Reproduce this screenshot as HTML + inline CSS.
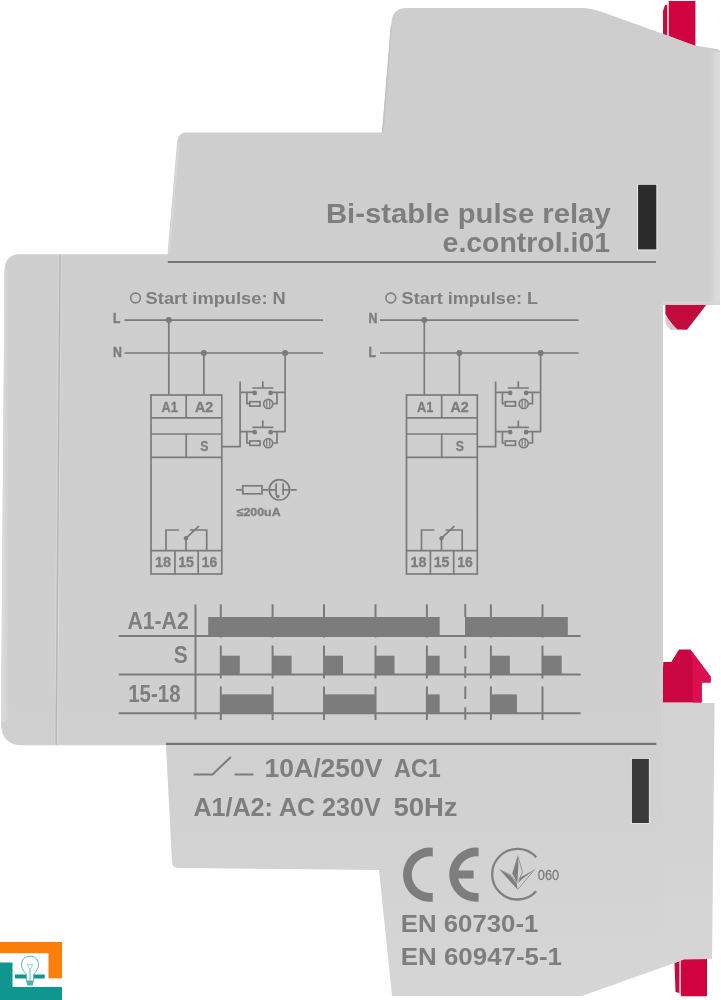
<!DOCTYPE html>
<html><head><meta charset="utf-8">
<style>
html,body{margin:0;padding:0;background:#fff;}
body{width:721px;height:1000px;overflow:hidden;position:relative;}
svg{position:absolute;left:0;top:0;display:block;filter:blur(0.4px);}
text{font-family:"Liberation Sans",sans-serif;font-weight:bold;fill:#7e7e7e;}
</style></head><body>
<svg width="721" height="1000" viewBox="0 0 721 1000">
<!-- red clips (behind housing) -->
<g fill="#cf0a45">
  <path d="M668.7 1 L695.4 1 L695.4 47 L668.7 36 Z" fill="#d0033f"/>
  <path d="M667 4 L668.8 4 L668.8 37 L667 37 Z" fill="#f2b7c6"/>
  <path d="M663 11 L665 5 L667 5 L667 37 L663 35 Z" fill="#c50d3e"/>
  <path d="M665.4 305 L706.2 305 L687 329.8 L677 329.6 Q668 320 665.4 314 Z" fill="#c20b3c"/>
  <path d="M665.4 314 Q668 320 677 329.6 L670.5 330 L665.6 323.5 Z" fill="#d9c9cd"/>
  <path d="M663.3 662 L671.2 662 L679 649.4 L690.4 649.4 L710.6 676.5 L710.6 682.4 L701.7 682.4 L701.7 702.5 L661.5 702.5 Z" fill="#c90642"/>
  <path d="M690.4 649.4 L710.6 676.5 L710.6 682.4 L701.7 682.4 L701.7 702.5 L692.6 702.5 L692.6 663 Z" fill="#db0f4f"/>
  <path d="M680.5 958 L707 958 L707 996.3 L681 996.3 Z" fill="#d0033f"/>
  <path d="M679.3 960 L681 960 L681 995 L679.3 994 Z" fill="#f0b2c2"/>
  <path d="M674.5 963 L679.3 961 L679.3 993 L675.5 992 Z" fill="#c20b3e"/>
</g>
<!-- housing silhouette -->
<defs>
<linearGradient id="lg" x1="0" y1="0" x2="0" y2="1">
  <stop offset="0" stop-color="#cecece"/>
  <stop offset="0.7" stop-color="#cfcfcf"/>
  <stop offset="0.8" stop-color="#d1d1d1"/>
  <stop offset="1" stop-color="#d6d6d6"/>
</linearGradient>
</defs>
<path fill="url(#lg)" d="
 M406 8 L584 8 Q592 8.5 602 12 L662 33.5 L695 45.5 L718 49.2 L720 51 L720 305 L663 305 L663 703 L714.5 703 L712 959
 L684 959.5 L676 962.5 L582 996 L392 996 L379 870 L178 868 Q172.5 868 172 862 L166 746 L166 745.3 L23 745.3 Q1 745.3 1 723
 L4.6 270 Q5 254.2 20 254.2 L167.5 254.2 L177.2 141 Q178.2 132.5 187 132.5 L381.8 132.5 L391.5 22 Q393 8 406 8 Z"/>
<!-- edge highlights -->
<defs><linearGradient id="lh" gradientUnits="userSpaceOnUse" x1="1" y1="0" x2="9" y2="0">
<stop offset="0" stop-color="#dedede"/><stop offset="0.4" stop-color="#d8d8d8"/><stop offset="1" stop-color="#d8d8d8" stop-opacity="0"/></linearGradient></defs>
<path d="M4.6 270 L12.6 270 L9 722 L1 722 Z" fill="url(#lh)"/>
<path d="M661.5 305 V703" stroke="#d2d2d2" stroke-width="2"/>
<defs><linearGradient id="rh" gradientUnits="userSpaceOnUse" x1="710" y1="0" x2="720" y2="0">
<stop offset="0" stop-color="#d6d6d6" stop-opacity="0"/><stop offset="0.5" stop-color="#d8d8d8"/><stop offset="1" stop-color="#dcdcdc"/></linearGradient></defs>
<path d="M710 52 L720 52 L720 305 L710 305 Z" fill="url(#rh)"/>
<path d="M663 302.5 H720" stroke="#d6d6d6" stroke-width="2"/>
<path d="M663 703 L714.5 703 L712 959 L663 959 Z" fill="#d6d6d6" opacity="0.35"/>
<path d="M391.3 26 L383 131" stroke="#c2c2c2" stroke-width="1.4"/>
<path d="M178.8 142 L169.2 254" stroke="#d6d6d6" stroke-width="2"/>
<!-- inner lines -->
<path d="M58.8 255 L54.8 745" stroke="#d6d6d6" stroke-width="1.2"/>
<path d="M61.4 255 L57.4 745" stroke="#d8d8d8" stroke-width="1.2"/>
<path d="M60.1 255 L56.1 745" stroke="#b6b6b6" stroke-width="1.4"/>
<line x1="167.8" y1="262" x2="656" y2="262" stroke="#747474" stroke-width="2.2"/>
<line x1="166" y1="743.8" x2="656.3" y2="743.8" stroke="#747474" stroke-width="2.2"/>
<!-- slots -->
<rect x="637" y="184" width="20.5" height="66.5" fill="#e6e6e6"/>
<rect x="638.1" y="184.8" width="18.2" height="64.6" fill="#2b2b2b"/>
<rect x="631" y="758" width="19" height="66" fill="#e4e4e4"/>
<rect x="631.9" y="758.9" width="17" height="64.1" fill="#3a3a3a"/>

<!-- Title -->
<text x="325.9" y="222.7" font-size="27.2" textLength="284.8" lengthAdjust="spacingAndGlyphs">Bi-stable pulse relay</text>
<text x="442.6" y="251.6" font-size="27.2" textLength="167.4" lengthAdjust="spacingAndGlyphs">e.control.i01</text>

<defs>
<g id="sw">
  <path d="M240.1 392.3 H253 M272.3 392.3 H285.1 M246.9 392.3 V403.7 H249.1 M273.4 403.7 H277 V392.3"/>
  <path d="M252.3 388 H273.3 M262.8 381.2 V388"/>
  <circle cx="254.7" cy="392.9" r="1.5" fill="#7b7b7b"/>
  <circle cx="270.6" cy="392.9" r="1.5" fill="#7b7b7b"/>
  <rect x="249.8" y="401.7" width="10.2" height="4.4"/>
  <circle cx="268.2" cy="403.9" r="4.5"/>
  <path d="M266.7 400.2 V407 M269.7 400.2 V407" stroke-width="1.2"/>
</g>
<g id="dg">
  <g stroke="#7b7b7b" stroke-width="1.7" fill="none">
    <path d="M124.5 320.1 H323 M124.5 353 H323"/>
    <path d="M168.8 320.1 V395 M203.9 353 V395 M285.1 353 V432.3"/>
    <rect x="151" y="395" width="70.8" height="179"/>
    <path d="M151 417.8 H221.8 M151 434 H221.8 M151 457.3 H221.8 M151 550.7 H221.8"/>
    <path d="M186.2 395 V417.8 M186.2 434 V457.3 M174.9 550.7 V574 M198.2 550.7 V574"/>
    <path d="M166 550.7 V530 H178.9 M186 550.7 V538.2 L198.9 526.2 M206.7 550.7 V530 H190"/>
    <path d="M221.8 446.7 H240.1 V381.6"/>
    <use href="#sw"/>
    <use href="#sw" y="39.3"/>
  </g>
  <g fill="#7b7b7b">
    <circle cx="168.8" cy="320.1" r="3"/>
    <circle cx="203.9" cy="353" r="3"/>
    <circle cx="285.1" cy="353" r="3"/>
    <circle cx="186" cy="538.2" r="2.2"/>
  </g>
  <g font-size="14.5" stroke="#7e7e7e" stroke-width="0.35">
    <text x="161.6" y="411.8" textLength="16.2" lengthAdjust="spacingAndGlyphs">A1</text>
    <text x="195.1" y="411.8" textLength="18.2" lengthAdjust="spacingAndGlyphs">A2</text>
    <text x="200.2" y="450.7" textLength="8.2" lengthAdjust="spacingAndGlyphs">S</text>
    <text x="155.1" y="567.3" textLength="16" lengthAdjust="spacingAndGlyphs">18</text>
    <text x="178.2" y="567.3" textLength="15.8" lengthAdjust="spacingAndGlyphs">15</text>
    <text x="201.8" y="567.3" textLength="15.5" lengthAdjust="spacingAndGlyphs">16</text>
  </g>
</g>
</defs>
<use href="#dg"/>
<use href="#dg" x="255.5"/>
<g font-size="14.5" stroke="#7e7e7e" stroke-width="0.5">
  <text x="112.9" y="323.4" textLength="7.4" lengthAdjust="spacingAndGlyphs">L</text>
  <text x="112.9" y="356.5" textLength="8.9" lengthAdjust="spacingAndGlyphs">N</text>
  <text x="368.4" y="323.4" textLength="8.9" lengthAdjust="spacingAndGlyphs">N</text>
  <text x="368.4" y="356.5" textLength="7.4" lengthAdjust="spacingAndGlyphs">L</text>
</g>
<g font-size="16.7">
  <text x="145.6" y="303.8" textLength="140.2" lengthAdjust="spacingAndGlyphs">Start impulse: N</text>
  <text x="401.6" y="303.8" textLength="136.4" lengthAdjust="spacingAndGlyphs">Start impulse: L</text>
</g>
<g stroke="#7e7e7e" stroke-width="1.6" fill="none">
  <circle cx="135.5" cy="298" r="4.9"/>
  <circle cx="390.8" cy="298" r="4.9"/>
</g>
<!-- lamp symbol -->
<g stroke="#7b7b7b" stroke-width="1.7" fill="none">
  <path d="M236.1 489.8 H242 M262.8 489.8 H268.3 M290.5 489.8 H296.7"/>
  <rect x="242.8" y="485.8" width="19.2" height="8"/>
  <circle cx="279.4" cy="489.8" r="10.2"/>
  <path d="M276.1 483.3 V495.5 M283.1 483.3 V495 M269.2 489.8 H276.1 M283.1 489.8 H289.6"/>
</g>
<circle cx="277.8" cy="496.5" r="1.8" fill="#7b7b7b"/>
<text x="236.7" y="515.6" font-size="11.8" stroke="#7e7e7e" stroke-width="0.35" textLength="43.9" lengthAdjust="spacingAndGlyphs">≤200uA</text>

<!-- timing chart -->
<g stroke="#7b7b7b" stroke-width="2" fill="none">
  <path d="M118.7 636.1 H580.6 M118.7 674.6 H580.6 M118.7 713.3 H580.6"/>
  <path d="M195.5 604.5 V719.5"/>
  <path d="M220.8 604.3 V637.5 M272.6 604.3 V637.5 M324 604.3 V637.5 M375.5 604.3 V637.5 M426.9 604.3 V637.5 M490.9 604.3 V637.5 M542.5 604.3 V637.5"/>
  <path d="M220.8 645.5 V678.5 M272.6 645.5 V678.5 M324 645.5 V678.5 M375.5 645.5 V678.5 M426.9 645.5 V678.5 M490.9 645.5 V678.5 M542.5 645.5 V678.5"/>
  <path d="M220.8 686.4 V720 M272.6 686.4 V720 M324 686.4 V720 M375.5 686.4 V720 M426.9 686.4 V720 M490.9 686.4 V720 M542.5 686.4 V720"/>
  <path d="M465.3 604 V617 M465.3 645.6 V658.6 M465.3 666.4 V678.1 M465.3 686.6 V698.9 M465.3 707.3 V719.7"/>
</g>
<g fill="#7c7c7c">
  <rect x="208.2" y="617" width="231.5" height="19"/>
  <rect x="465" y="617" width="102.8" height="19"/>
  <rect x="220.8" y="655.7" width="19" height="19"/>
  <rect x="272.6" y="655.7" width="19" height="19"/>
  <rect x="324" y="655.7" width="19" height="19"/>
  <rect x="375.5" y="655.7" width="19" height="19"/>
  <rect x="426.9" y="655.7" width="12.8" height="19"/>
  <rect x="490.9" y="655.7" width="19" height="19"/>
  <rect x="542.5" y="655.7" width="19.2" height="19"/>
  <rect x="220.8" y="694.4" width="51.8" height="19"/>
  <rect x="324" y="694.4" width="51.5" height="19"/>
  <rect x="426.9" y="694.4" width="12.8" height="19"/>
  <rect x="490.9" y="694.4" width="26" height="19"/>
</g>
<g font-size="23">
  <text x="127.4" y="628.6" textLength="61.3" lengthAdjust="spacingAndGlyphs">A1-A2</text>
  <text x="173.8" y="663.4" textLength="14" lengthAdjust="spacingAndGlyphs">S</text>
  <text x="128.2" y="702.1" textLength="52.4" lengthAdjust="spacingAndGlyphs">15-18</text>
</g>

<!-- ratings -->
<path d="M193.7 774.5 H212.5 L230.8 757 M234.7 774.5 H253.3" stroke="#7b7b7b" stroke-width="2" fill="none"/>
<g font-size="26.4">
  <text x="264.6" y="777" textLength="117.7" lengthAdjust="spacingAndGlyphs">10A/250V</text>
  <text x="394" y="777" textLength="46.8" lengthAdjust="spacingAndGlyphs">AC1</text>
  <text x="193.4" y="815.5" textLength="187.3" lengthAdjust="spacingAndGlyphs">A1/A2: AC 230V</text>
  <text x="393.4" y="815.5" textLength="64.2" lengthAdjust="spacingAndGlyphs">50Hz</text>
</g>

<!-- CE -->
<g fill="#7d7d7d">
  <path d="M432.75 847.73 A27.1 27.1 0 1 0 432.75 901.67 L432.75 892.86 A18.35 18.35 0 1 1 432.75 856.54 Z"/>
  <path d="M478.6 847.7 A27.1 27.1 0 1 0 478.6 901.7 L478.6 892.9 A18.35 18.35 0 1 1 478.6 856.5 Z"/>
  <rect x="457" y="870.5" width="16.6" height="8"/>
</g>
<!-- UA mark -->
<path d="M536.2 857.2 A25.3 25.3 0 1 0 536.2 891.2" stroke="#808080" stroke-width="2.3" fill="none"/>
<g fill="#7e7e7e">
  <path d="M517.7 855.7 L512.3 873.4 L517.3 883 L518.4 866 Z"/>
  <path d="M499.7 869.7 L510.5 875.8 L516.8 883.5 L517.4 889.4 Z"/>
  <path d="M534.6 869.5 L520.2 877.5 L518.2 883.5 L521.5 879.5 Z"/>
</g>
<g stroke="#8c8c8c" stroke-width="0.9" fill="none">
  <path d="M517.7 855.7 L522.5 872.1 L518.6 880.7"/>
  <path d="M534.6 869.5 L517.6 889.6"/>
  <path d="M499.7 869.7 L511 875.2 L517 882.5"/>
</g>
<text x="537.8" y="879.9" font-size="14.8" stroke="#7e7e7e" stroke-width="0.3" textLength="21.3" lengthAdjust="spacingAndGlyphs" style="font-weight:normal">060</text>

<g font-size="23.8">
  <text x="400.8" y="931.7" textLength="137.6" lengthAdjust="spacingAndGlyphs">EN 60730-1</text>
  <text x="400.8" y="965" textLength="161.2" lengthAdjust="spacingAndGlyphs">EN 60947-5-1</text>
</g>
</svg>
<svg width="721" height="1000" viewBox="0 0 721 1000">
<!-- logo -->
<g fill="#fa7e0a">
  <rect x="0" y="942" width="62" height="11.2"/>
  <rect x="48.5" y="942" width="13.5" height="36.3"/>
</g>
<g fill="#0e968f">
  <rect x="0" y="962.5" width="12.5" height="37.5"/>
  <rect x="0" y="987" width="62" height="13"/>
  <rect x="15" y="974.5" width="29.7" height="4"/>
</g>
<path d="M26.3 974 C 18.5 967, 20.5 956.3, 30 956.2 C 39.5 956.3, 41.5 967, 33.7 974 L 33.7 981 L 26.3 981 Z" fill="#fff" stroke="#3a9f9a" stroke-width="0.8"/>
<g stroke="#7cc4c0" stroke-width="0.7" fill="none">
  <path d="M27.2 964.6 H32.8 L30.6 968.5 H29.4 Z"/>
  <path d="M29.3 968.5 V981 M30.7 968.5 V981"/>
  <path d="M36 959.5 L37.5 961.5"/>
</g>
<path d="M26.3 981 H33.7 L32.7 985.5 H27.3 Z" fill="#4cb0ab"/>
</svg>
</body></html>
